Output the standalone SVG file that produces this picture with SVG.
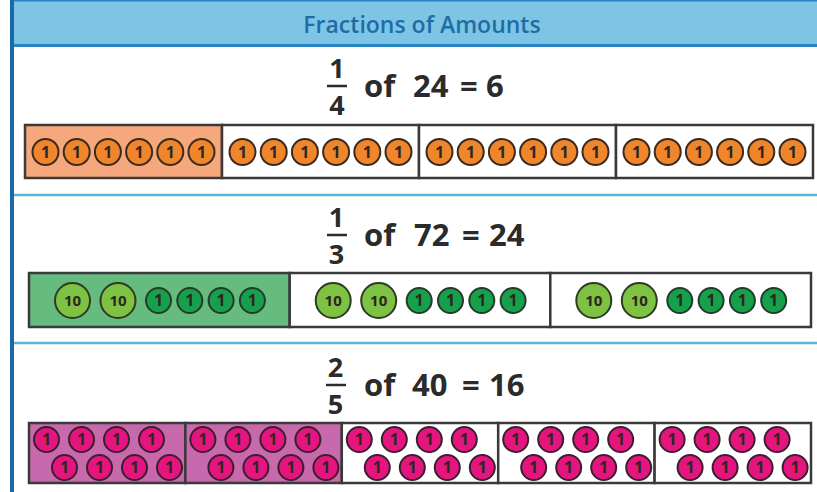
<svg xmlns="http://www.w3.org/2000/svg" width="817" height="492" viewBox="0 0 817 492">
<style>
.bar{stroke:#3a3a3a;stroke-width:2.5;fill:#fff}
.o{fill:#f0862c;stroke:#3d2a1e;stroke-width:2}
.g1{fill:#17a04c;stroke:#233b2a;stroke-width:2}
.g10{fill:#7dc242;stroke:#2f3b24;stroke-width:2}
.p{fill:#e5157f;stroke:#3a1f2c;stroke-width:2}
.ct{font-family:"Open Sans","Liberation Sans",sans-serif;font-weight:700;font-size:16px;fill:#2e2620;text-anchor:middle}
.ct10{font-family:"Open Sans","Liberation Sans",sans-serif;font-weight:700;font-size:15px;fill:#2e2620;text-anchor:middle}
.eq{font-family:"Open Sans","Liberation Sans",sans-serif;font-weight:700;font-size:31px;fill:#2b2b2b}
.fr{font-family:"Open Sans","Liberation Sans",sans-serif;font-weight:700;font-size:27px;fill:#2b2b2b;text-anchor:middle}
.fl{stroke:#2b2b2b;stroke-width:2.5}
.sep{stroke:#5eb2e2;stroke-width:2.5}
</style>
<rect width="817" height="492" fill="#fff"/>
<g id="header">
<rect x="14" y="0" width="803" height="45" fill="#7ec4e4"/>
<line x1="14" y1="0.75" x2="817" y2="0.75" stroke="#2a86c4" stroke-width="1.5"/>
<line x1="14" y1="45.5" x2="817" y2="45.5" stroke="#2585c3" stroke-width="3"/>
<text x="422" y="33" font-family="'Open Sans','Liberation Sans',sans-serif" font-weight="600" font-size="23" fill="#1e6ea6" text-anchor="middle">Fractions of Amounts</text>
</g>
<rect id="left-border" x="10" y="0" width="4" height="492" fill="#1b6aa5"/>
<g id="separators">
<line class="sep" x1="14" y1="195" x2="817" y2="195"/>
<line class="sep" x1="14" y1="343" x2="817" y2="343"/>
</g>
<g id="row1">
<g id="eq1">
<text class="fr" x="337" y="78">1</text>
<line class="fl" x1="327" y1="86" x2="347" y2="86"/>
<text class="fr" x="337" y="115">4</text>
<text class="eq" y="97"><tspan x="364">of</tspan><tspan x="413">24</tspan><tspan x="460">=</tspan><tspan x="486">6</tspan></text>
</g>
<g id="bar1-seg1">
<rect class="bar" x="25" y="125" width="197" height="53" style="fill:#f4a87c"/>
<circle class="o" cx="45.5" cy="152" r="13"/><text class="ct" x="45.5" y="157.7">1</text>
<circle class="o" cx="76.7" cy="152" r="13"/><text class="ct" x="76.7" y="157.7">1</text>
<circle class="o" cx="107.9" cy="152" r="13"/><text class="ct" x="107.9" y="157.7">1</text>
<circle class="o" cx="139.1" cy="152" r="13"/><text class="ct" x="139.1" y="157.7">1</text>
<circle class="o" cx="170.3" cy="152" r="13"/><text class="ct" x="170.3" y="157.7">1</text>
<circle class="o" cx="201.5" cy="152" r="13"/><text class="ct" x="201.5" y="157.7">1</text>
</g>
<g id="bar1-seg2">
<rect class="bar" x="222" y="125" width="197" height="53"/>
<circle class="o" cx="242.5" cy="152" r="13"/><text class="ct" x="242.5" y="157.7">1</text>
<circle class="o" cx="273.7" cy="152" r="13"/><text class="ct" x="273.7" y="157.7">1</text>
<circle class="o" cx="304.9" cy="152" r="13"/><text class="ct" x="304.9" y="157.7">1</text>
<circle class="o" cx="336.1" cy="152" r="13"/><text class="ct" x="336.1" y="157.7">1</text>
<circle class="o" cx="367.3" cy="152" r="13"/><text class="ct" x="367.3" y="157.7">1</text>
<circle class="o" cx="398.5" cy="152" r="13"/><text class="ct" x="398.5" y="157.7">1</text>
</g>
<g id="bar1-seg3">
<rect class="bar" x="419" y="125" width="197" height="53"/>
<circle class="o" cx="439.5" cy="152" r="13"/><text class="ct" x="439.5" y="157.7">1</text>
<circle class="o" cx="470.7" cy="152" r="13"/><text class="ct" x="470.7" y="157.7">1</text>
<circle class="o" cx="501.9" cy="152" r="13"/><text class="ct" x="501.9" y="157.7">1</text>
<circle class="o" cx="533.1" cy="152" r="13"/><text class="ct" x="533.1" y="157.7">1</text>
<circle class="o" cx="564.3" cy="152" r="13"/><text class="ct" x="564.3" y="157.7">1</text>
<circle class="o" cx="595.5" cy="152" r="13"/><text class="ct" x="595.5" y="157.7">1</text>
</g>
<g id="bar1-seg4">
<rect class="bar" x="616" y="125" width="197" height="53"/>
<circle class="o" cx="636.5" cy="152" r="13"/><text class="ct" x="636.5" y="157.7">1</text>
<circle class="o" cx="667.7" cy="152" r="13"/><text class="ct" x="667.7" y="157.7">1</text>
<circle class="o" cx="698.9" cy="152" r="13"/><text class="ct" x="698.9" y="157.7">1</text>
<circle class="o" cx="730.1" cy="152" r="13"/><text class="ct" x="730.1" y="157.7">1</text>
<circle class="o" cx="761.3" cy="152" r="13"/><text class="ct" x="761.3" y="157.7">1</text>
<circle class="o" cx="792.5" cy="152" r="13"/><text class="ct" x="792.5" y="157.7">1</text>
</g>
</g>
<g id="row2">
<g id="eq2">
<text class="fr" x="336.5" y="227">1</text>
<line class="fl" x1="327" y1="235" x2="347" y2="235"/>
<text class="fr" x="336.5" y="264">3</text>
<text class="eq" y="246"><tspan x="364">of</tspan><tspan x="414">72</tspan><tspan x="462">=</tspan><tspan x="489">24</tspan></text>
</g>
<g id="bar2-seg1">
<rect class="bar" x="29" y="273" width="260.7" height="54" style="fill:#66bb7f"/>
<circle class="g10" cx="72.5" cy="300.5" r="17.5"/><text class="ct10" x="72.5" y="305.8">10</text>
<circle class="g10" cx="118" cy="300.5" r="17.5"/><text class="ct10" x="118" y="305.8">10</text>
<circle class="g1" cx="158.5" cy="300.5" r="12.5"/><text class="ct" x="158.5" y="306.2">1</text>
<circle class="g1" cx="189.8" cy="300.5" r="12.5"/><text class="ct" x="189.8" y="306.2">1</text>
<circle class="g1" cx="221.1" cy="300.5" r="12.5"/><text class="ct" x="221.1" y="306.2">1</text>
<circle class="g1" cx="252.4" cy="300.5" r="12.5"/><text class="ct" x="252.4" y="306.2">1</text>
</g>
<g id="bar2-seg2">
<rect class="bar" x="289.7" y="273" width="260.6" height="54"/>
<circle class="g10" cx="333.2" cy="300.5" r="17.5"/><text class="ct10" x="333.2" y="305.8">10</text>
<circle class="g10" cx="378.7" cy="300.5" r="17.5"/><text class="ct10" x="378.7" y="305.8">10</text>
<circle class="g1" cx="419.2" cy="300.5" r="12.5"/><text class="ct" x="419.2" y="306.2">1</text>
<circle class="g1" cx="450.5" cy="300.5" r="12.5"/><text class="ct" x="450.5" y="306.2">1</text>
<circle class="g1" cx="481.8" cy="300.5" r="12.5"/><text class="ct" x="481.8" y="306.2">1</text>
<circle class="g1" cx="513.1" cy="300.5" r="12.5"/><text class="ct" x="513.1" y="306.2">1</text>
</g>
<g id="bar2-seg3">
<rect class="bar" x="550.3" y="273" width="260.7" height="54"/>
<circle class="g10" cx="593.8" cy="300.5" r="17.5"/><text class="ct10" x="593.8" y="305.8">10</text>
<circle class="g10" cx="639.3" cy="300.5" r="17.5"/><text class="ct10" x="639.3" y="305.8">10</text>
<circle class="g1" cx="679.8" cy="300.5" r="12.5"/><text class="ct" x="679.8" y="306.2">1</text>
<circle class="g1" cx="711.1" cy="300.5" r="12.5"/><text class="ct" x="711.1" y="306.2">1</text>
<circle class="g1" cx="742.4" cy="300.5" r="12.5"/><text class="ct" x="742.4" y="306.2">1</text>
<circle class="g1" cx="773.7" cy="300.5" r="12.5"/><text class="ct" x="773.7" y="306.2">1</text>
</g>
</g>
<g id="row3">
<g id="eq3">
<text class="fr" x="335.5" y="377">2</text>
<line class="fl" x1="326" y1="385" x2="346" y2="385"/>
<text class="fr" x="335.5" y="414">5</text>
<text class="eq" y="396"><tspan x="364">of</tspan><tspan x="412">40</tspan><tspan x="462">=</tspan><tspan x="489">16</tspan></text>
</g>
<g id="bar3-seg1">
<rect class="bar" x="29" y="423" width="156.4" height="60" style="fill:#c868ad"/>
<circle class="p" cx="46.5" cy="439.5" r="12.5"/><text class="ct" x="46.5" y="445.2">1</text>
<circle class="p" cx="81.5" cy="439.5" r="12.5"/><text class="ct" x="81.5" y="445.2">1</text>
<circle class="p" cx="116.5" cy="439.5" r="12.5"/><text class="ct" x="116.5" y="445.2">1</text>
<circle class="p" cx="151.5" cy="439.5" r="12.5"/><text class="ct" x="151.5" y="445.2">1</text>
<circle class="p" cx="64.5" cy="467.5" r="12.5"/><text class="ct" x="64.5" y="473.2">1</text>
<circle class="p" cx="99.5" cy="467.5" r="12.5"/><text class="ct" x="99.5" y="473.2">1</text>
<circle class="p" cx="134.5" cy="467.5" r="12.5"/><text class="ct" x="134.5" y="473.2">1</text>
<circle class="p" cx="169.5" cy="467.5" r="12.5"/><text class="ct" x="169.5" y="473.2">1</text>
</g>
<g id="bar3-seg2">
<rect class="bar" x="185.4" y="423" width="156.4" height="60" style="fill:#c868ad"/>
<circle class="p" cx="202.9" cy="439.5" r="12.5"/><text class="ct" x="202.9" y="445.2">1</text>
<circle class="p" cx="237.9" cy="439.5" r="12.5"/><text class="ct" x="237.9" y="445.2">1</text>
<circle class="p" cx="272.9" cy="439.5" r="12.5"/><text class="ct" x="272.9" y="445.2">1</text>
<circle class="p" cx="307.9" cy="439.5" r="12.5"/><text class="ct" x="307.9" y="445.2">1</text>
<circle class="p" cx="220.9" cy="467.5" r="12.5"/><text class="ct" x="220.9" y="473.2">1</text>
<circle class="p" cx="255.9" cy="467.5" r="12.5"/><text class="ct" x="255.9" y="473.2">1</text>
<circle class="p" cx="290.9" cy="467.5" r="12.5"/><text class="ct" x="290.9" y="473.2">1</text>
<circle class="p" cx="325.9" cy="467.5" r="12.5"/><text class="ct" x="325.9" y="473.2">1</text>
</g>
<g id="bar3-seg3">
<rect class="bar" x="341.8" y="423" width="156.4" height="60"/>
<circle class="p" cx="359.3" cy="439.5" r="12.5"/><text class="ct" x="359.3" y="445.2">1</text>
<circle class="p" cx="394.3" cy="439.5" r="12.5"/><text class="ct" x="394.3" y="445.2">1</text>
<circle class="p" cx="429.3" cy="439.5" r="12.5"/><text class="ct" x="429.3" y="445.2">1</text>
<circle class="p" cx="464.3" cy="439.5" r="12.5"/><text class="ct" x="464.3" y="445.2">1</text>
<circle class="p" cx="377.3" cy="467.5" r="12.5"/><text class="ct" x="377.3" y="473.2">1</text>
<circle class="p" cx="412.3" cy="467.5" r="12.5"/><text class="ct" x="412.3" y="473.2">1</text>
<circle class="p" cx="447.3" cy="467.5" r="12.5"/><text class="ct" x="447.3" y="473.2">1</text>
<circle class="p" cx="482.3" cy="467.5" r="12.5"/><text class="ct" x="482.3" y="473.2">1</text>
</g>
<g id="bar3-seg4">
<rect class="bar" x="498.2" y="423" width="156.4" height="60"/>
<circle class="p" cx="515.7" cy="439.5" r="12.5"/><text class="ct" x="515.7" y="445.2">1</text>
<circle class="p" cx="550.7" cy="439.5" r="12.5"/><text class="ct" x="550.7" y="445.2">1</text>
<circle class="p" cx="585.7" cy="439.5" r="12.5"/><text class="ct" x="585.7" y="445.2">1</text>
<circle class="p" cx="620.7" cy="439.5" r="12.5"/><text class="ct" x="620.7" y="445.2">1</text>
<circle class="p" cx="533.7" cy="467.5" r="12.5"/><text class="ct" x="533.7" y="473.2">1</text>
<circle class="p" cx="568.7" cy="467.5" r="12.5"/><text class="ct" x="568.7" y="473.2">1</text>
<circle class="p" cx="603.7" cy="467.5" r="12.5"/><text class="ct" x="603.7" y="473.2">1</text>
<circle class="p" cx="638.7" cy="467.5" r="12.5"/><text class="ct" x="638.7" y="473.2">1</text>
</g>
<g id="bar3-seg5">
<rect class="bar" x="654.6" y="423" width="156.4" height="60"/>
<circle class="p" cx="672.1" cy="439.5" r="12.5"/><text class="ct" x="672.1" y="445.2">1</text>
<circle class="p" cx="707.1" cy="439.5" r="12.5"/><text class="ct" x="707.1" y="445.2">1</text>
<circle class="p" cx="742.1" cy="439.5" r="12.5"/><text class="ct" x="742.1" y="445.2">1</text>
<circle class="p" cx="777.1" cy="439.5" r="12.5"/><text class="ct" x="777.1" y="445.2">1</text>
<circle class="p" cx="690.1" cy="467.5" r="12.5"/><text class="ct" x="690.1" y="473.2">1</text>
<circle class="p" cx="725.1" cy="467.5" r="12.5"/><text class="ct" x="725.1" y="473.2">1</text>
<circle class="p" cx="760.1" cy="467.5" r="12.5"/><text class="ct" x="760.1" y="473.2">1</text>
<circle class="p" cx="795.1" cy="467.5" r="12.5"/><text class="ct" x="795.1" y="473.2">1</text>
</g>
</g>
<g id="connectors"/>
</svg>
